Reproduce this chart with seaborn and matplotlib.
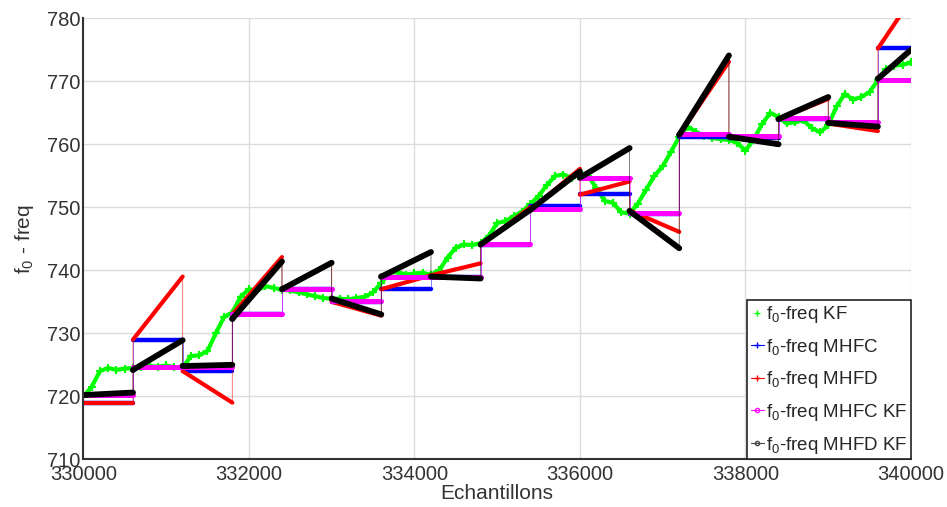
import numpy as np
import pandas as pd
import seaborn as sns
import matplotlib.pyplot as plt
from matplotlib.lines import Line2D

# limites des blocs (echantillons)
seg_edges = [330000, 330600, 331200, 331800, 332400, 333000, 333600, 334200,
             334800, 335400, 336000, 336600, 337200, 337800, 338400, 339000,
             339600, 340000]

# MHFC : constant par bloc
mhfc = [719.0, 729.0, 724.0, 733.0, 737.0, 735.0, 737.0, 739.0, 744.0,
        750.2, 752.1, 749.0, 761.2, 761.0, 764.0, 763.3, 775.2]

# MHFD : droite par bloc (debut, fin)
mhfd_start = [719.0, 729.0, 724.0, 733.0, 737.0, 735.0, 737.0, 739.2, 744.0,
              749.6, 752.0, 749.5, 761.5, 761.3, 764.0, 763.3, 775.2]
mhfd_end = [719.0, 739.0, 719.0, 742.1, 741.2, 732.8, 739.2, 741.1, 750.0,
            756.1, 754.1, 746.1, 773.1, 761.1, 767.2, 762.1, 783.0]

# MHFC KF
mhfc_kf = [720.2, 724.6, 724.6, 733.1, 737.1, 735.1, 739.0, 739.0, 744.2,
           749.8, 754.6, 749.1, 761.6, 761.3, 764.1, 763.5, 770.2]

# MHFD KF
mhfd_kf_start = [720.2, 724.2, 724.8, 732.3, 737.0, 735.5, 739.0, 739.0, 744.1,
                 749.6, 754.7, 749.4, 761.5, 761.2, 764.0, 763.4, 770.4]
mhfd_kf_end = [720.6, 728.9, 725.0, 741.4, 741.2, 733.0, 742.9, 738.7, 749.6,
               755.7, 759.4, 743.5, 774.1, 760.0, 767.5, 762.8, 775.0]

# KF (tous les 100 echantillons)
kf_samples = np.arange(330000, 340001, 100)
kf_vals = [720.0, 721.5, 724.0, 724.5, 724.2, 724.4, 724.5, 724.6, 724.8, 724.7,
           724.9, 724.6, 724.5, 726.4, 726.5, 727.2, 730.0, 732.6, 733.3, 735.8,
           737.0, 736.8, 737.5, 737.2, 736.9, 736.8, 736.5, 736.2, 735.9, 735.6,
           735.5, 735.5, 735.4, 735.6, 735.8, 736.5, 738.0, 739.6, 739.7, 739.3,
           739.5, 739.6, 739.3, 740.0, 742.0, 743.6, 744.1, 744.0, 744.3, 745.5,
           747.5, 747.8, 748.6, 749.3, 750.5, 751.8, 753.5, 755.0, 755.2, 754.7,
           755.5, 755.0, 753.0, 751.0, 750.7, 749.2, 749.0, 750.6, 752.8, 755.0,
           756.5, 758.8, 761.2, 762.8, 762.0, 761.3, 761.0, 760.8, 760.7, 760.2,
           759.0, 760.8, 763.2, 765.0, 764.3, 763.3, 763.5, 763.8, 762.6, 761.9,
           763.0, 766.0, 768.0, 767.1, 767.5, 768.3, 770.2, 772.0, 772.5, 772.6,
           773.0]

labels = ["f$_0$-freq KF", "f$_0$-freq MHFC", "f$_0$-freq MHFD",
          "f$_0$-freq MHFC KF", "f$_0$-freq MHFD KF"]


def segments(starts, ends):
    rows = []
    for i in range(len(starts)):
        rows.append((seg_edges[i], starts[i], i))
        rows.append((seg_edges[i + 1], ends[i], i))
    return pd.DataFrame(rows, columns=["x", "y", "seg"])


sns.set_style("white")
plt.rcParams["font.family"] = ["Liberation Sans", "DejaVu Sans"]
plt.rcParams["mathtext.default"] = "regular"

fig = plt.figure(figsize=(9.47, 5.07), dpi=100)
ax = fig.add_axes([0.088, 0.094, 0.874, 0.870])

# KF : trait vert epais avec des croix
sns.lineplot(x=kf_samples, y=kf_vals, color="#00ff00", lw=3, marker="+",
             ms=6, mew=1.5, mec="#00ff00", ax=ax)

series = [
    (segments(mhfc, mhfc), "#0000ff", 3.2),
    (segments(mhfd_start, mhfd_end), "#ff0000", 3.0),
    (segments(mhfc_kf, mhfc_kf), "#ff00ff", 3.6),
    (segments(mhfd_kf_start, mhfd_kf_end), "#000000", 4.2),
]
for df, col, lw in series:
    # liaisons fines entre les blocs
    sns.lineplot(data=df, x="x", y="y", sort=False, estimator=None, color=col,
                 lw=0.6, alpha=0.6, ax=ax)
    sns.lineplot(data=df, x="x", y="y", units="seg", estimator=None, color=col,
                 lw=lw, ax=ax)

kf_df = segments(mhfd_kf_start, mhfd_kf_end)
sns.scatterplot(data=kf_df.iloc[::2], x="x", y="y", marker="o", s=14,
                facecolors="none", edgecolor="#444444", linewidth=0.8, ax=ax)

ax.set_xlim(330000, 340000)
ax.set_ylim(710, 780)
ax.set_xticks(range(330000, 340001, 2000))
ax.set_yticks(range(710, 781, 10))
ax.grid(True, color="#dcdcdc", lw=1)
for s in ["top", "right"]:
    ax.spines[s].set_visible(False)
for s in ["left", "bottom"]:
    ax.spines[s].set_color("#333333")
    ax.spines[s].set_linewidth(1.5)
ax.tick_params(direction="in", length=5, width=1.2, colors="#333333",
               labelsize=14.5, pad=2)
ax.tick_params(axis="x", pad=4)
ax.set_xlabel("Echantillons", fontsize=15, color="#333333", labelpad=0)
ax.set_ylabel("f$_0$ - freq", fontsize=15, color="#333333", labelpad=8)

handles = [
    Line2D([], [], color="#00ff00", lw=0, marker="+", ms=4),
    Line2D([], [], color="#0000ff", lw=0.8, marker="+", ms=4),
    Line2D([], [], color="#ff0000", lw=0.8, marker="+", ms=4),
    Line2D([], [], color="#ff00ff", lw=0.8, marker="o", ms=3, mfc="none"),
    Line2D([], [], color="#444444", lw=0.8, marker="o", ms=3, mfc="none"),
]
leg = ax.legend(handles, labels, loc="lower right", fontsize=13.5,
                handlelength=0.7, handletextpad=0.1, labelspacing=0.62,
                borderpad=0.2, borderaxespad=0, fancybox=False, framealpha=1,
                edgecolor="#222222")
leg.get_frame().set_linewidth(1.2)

fig.savefig("out.png", dpi=100)
